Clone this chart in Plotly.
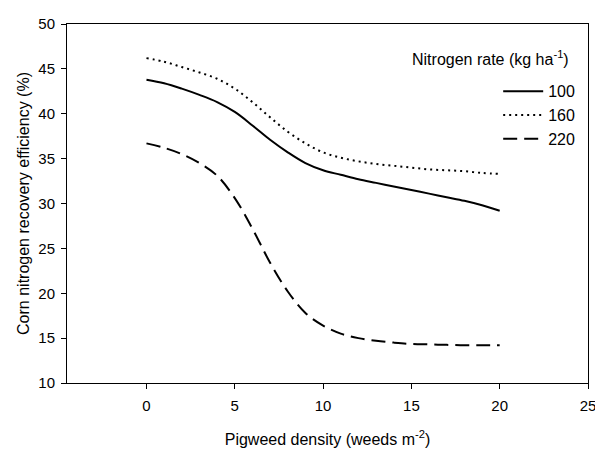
import plotly.graph_objects as go

density = list(range(0, 21))
n100 = [43.8, 43.4, 42.8, 42.1, 41.3, 40.2, 38.7, 37.1, 35.7, 34.5, 33.7, 33.2, 32.7, 32.3, 31.9, 31.5, 31.1, 30.7, 30.3, 29.8, 29.2]
n160 = [46.2, 45.8, 45.2, 44.6, 43.9, 42.8, 41.3, 39.6, 38.0, 36.7, 35.7, 35.1, 34.7, 34.4, 34.2, 34.0, 33.8, 33.7, 33.6, 33.4, 33.3]
n220 = [36.7, 36.2, 35.5, 34.5, 33.1, 30.6, 27.2, 23.4, 20.2, 17.8, 16.4, 15.5, 15.0, 14.7, 14.5, 14.35, 14.3, 14.25, 14.2, 14.2, 14.2]
series_names = ["100", "160", "220"]
series_values = [n100, n160, n220]
series_dash = ["solid", "2px,4px", "14px,7px"]

xticks = [0, 5, 10, 15, 20, 25]
yticks = [10, 15, 20, 25, 30, 35, 40, 45, 50]

FONT = "Arial, Liberation Sans, sans-serif"

fig = go.Figure()
for name, vals, dash in zip(series_names, series_values, series_dash):
    fig.add_trace(go.Scatter(x=density, y=vals, mode="lines", name=name,
                             line=dict(color="black", width=2, dash=dash, shape="spline")))

fig.add_annotation(text="Nitrogen rate (kg ha<sup>-1</sup>)", xref="paper", yref="paper",
                   x=0.968, y=0.905, xanchor="right", yanchor="middle", showarrow=False,
                   font=dict(family=FONT, size=16, color="black"))

# page body has an 8px default margin, so the figure is 8px smaller and margins shifted
fig.update_layout(
    width=595, height=444,
    margin=dict(l=59, r=9, t=7, b=68),
    paper_bgcolor="white", plot_bgcolor="white",
    font=dict(family=FONT, size=15, color="black"),
    showlegend=True,
    legend=dict(x=0.985, y=0.86, xanchor="right", yanchor="top",
                bgcolor="rgba(0,0,0,0)", font=dict(family=FONT, size=16), itemwidth=40),
    xaxis=dict(range=[-4.5, 25], tickvals=xticks, showgrid=False, zeroline=False,
               showline=True, linecolor="black", linewidth=1, mirror=True,
               ticks="outside", ticklen=5, tickcolor="black",
               tickfont=dict(size=15), ticklabelstandoff=4, ticklabeloverflow="allow",
               title=dict(text="Pigweed density (weeds m<sup>-2</sup>)", standoff=20,
                          font=dict(size=16))),
    yaxis=dict(range=[10, 50], tickvals=yticks, showgrid=False, zeroline=False,
               showline=True, linecolor="black", linewidth=1, mirror=True,
               ticks="outside", ticklen=5, tickcolor="black",
               tickfont=dict(size=15), ticklabelstandoff=3, ticklabeloverflow="allow",
               title=dict(text="Corn nitrogen recovery efficiency (%)", standoff=4,
                          font=dict(size=16))),
)
fig.write_html("out.html")
